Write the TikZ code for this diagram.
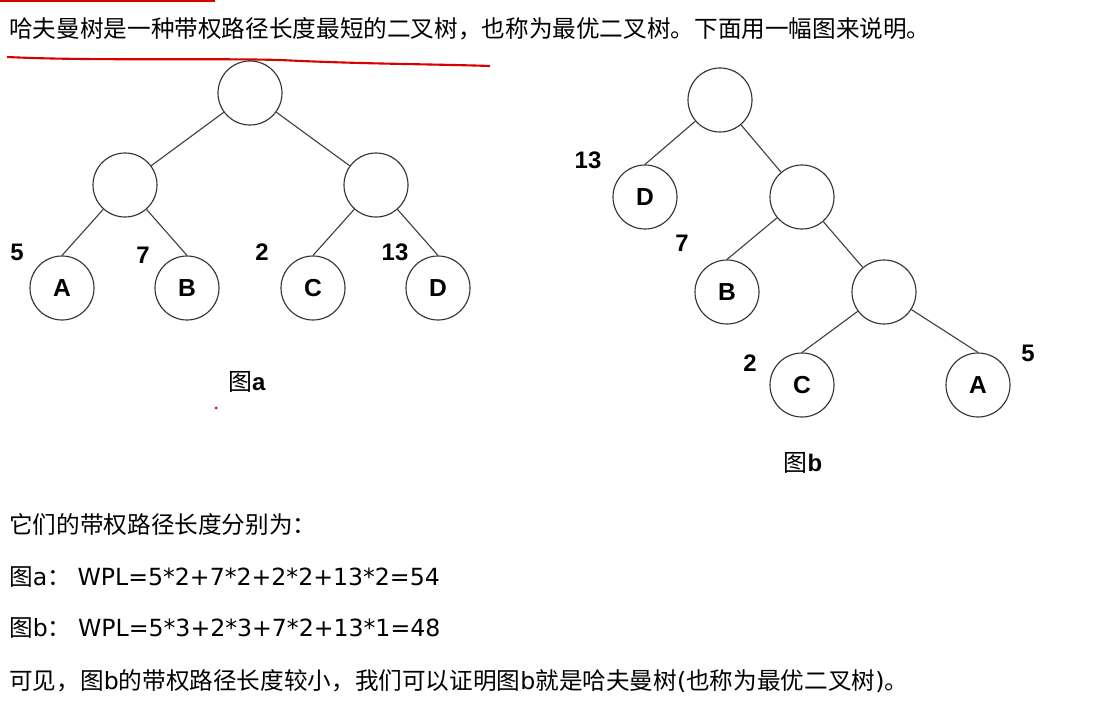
\documentclass[tikz,border=0pt]{standalone}
\usepackage{fontspec}
\setmainfont{Liberation Sans}
\newfontfamily\cjk{Noto Sans CJK SC}
\newfontfamily\latinsans{DejaVu Sans}
\begin{document}
\begin{tikzpicture}[x=0.025cm, y=-0.025cm,
  noeud/.style={circle, draw=black!80, line width=0.8pt, minimum size=1.6cm, inner sep=0pt,
    font=\fontsize{17.5}{17.5}\selectfont\bfseries},
  poids/.style={font=\fontsize{17}{17}\selectfont\bfseries},
  arete/.style={draw=black!75, line width=0.8pt},
  legende/.style={font=\fontsize{17}{17}\selectfont},
  ligne/.style={anchor=west, inner sep=0pt, font=\fontsize{16.8}{20}\selectfont}]
\useasboundingbox (0,0) rectangle (1111,701);
% Texte du haut
\node[ligne] (titre) at (9,29) {\cjk 哈夫曼树是一种带权路径长度最短的二叉树，也称为最优二叉树。下面用一幅图来说明。};
\draw[red!85!black, line width=1.2pt] (0,1) -- (215,1);
\draw[red!85!black, line width=1.5pt] (7,57) .. controls (90,61) and (200,58) .. (280,60) .. controls (360,64) and (430,64) .. (490,66);
% Arbre a
\node[noeud] (ra) at (250,93) {};
\node[noeud] (ga) at (125,185) {};
\node[noeud] (da) at (376,185) {};
\node[noeud] (Aa) at (62,288) {A};
\node[noeud] (Ba) at (187,288) {B};
\node[noeud] (Ca) at (313,288) {C};
\node[noeud] (Da) at (438,288) {D};
\draw[arete] (ra) -- (ga) (ra) -- (da);
\draw[arete] (ga) -- (Aa.north) (ga) -- (Ba.north) (da) -- (Ca.north) (da) -- (Da.north);
\node[poids] (pAa) at (17,252) {5};
\node[poids] (pBa) at (143,255) {7};
\node[poids] (pCa) at (262,252) {2};
\node[poids] (pDa) at (395,252) {13};
\node[legende] (capa) at (247,382) {{\cjk 图}\textbf{a}};
\fill[red!85!black] (216,408) circle (1.5);
% Arbre b
\node[noeud] (rb) at (720,100) {};
\node[noeud] (Db) at (645,197) {D};
\node[noeud] (db) at (802,197) {};
\node[noeud] (Bb) at (727,292) {B};
\node[noeud] (ib) at (884,292) {};
\node[noeud] (Cb) at (802,385) {C};
\node[noeud] (Ab) at (978,385) {A};
\draw[arete] (rb) -- (Db.north) (rb) -- (db);
\draw[arete] (db) -- (Bb.north) (db) -- (ib);
\draw[arete] (ib) -- (Cb.north) (ib) -- (Ab.north);
\node[poids] (pDb) at (588,160) {13};
\node[poids] (pBb) at (682,243) {7};
\node[poids] (pCb) at (750,363) {2};
\node[poids] (pAb) at (1028,353) {5};
\node[legende] (capb) at (803,463) {{\cjk 图}\textbf{b}};
% Texte du bas
\node[ligne] (l1) at (9,524) {\cjk 它们的带权路径长度分别为：};
\node[ligne] (l2) at (9,577) {{\cjk 图}{\latinsans a}{\cjk ：} {\latinsans WPL=5*2+7*2+2*2+13*2=54}};
\node[ligne] (l3) at (9,628) {{\cjk 图}{\latinsans b}{\cjk ：} {\latinsans WPL=5*3+2*3+7*2+13*1=48}};
\node[ligne] (l4) at (9,681) {{\cjk 可见，图}{\latinsans b}{\cjk 的带权路径长度较小，我们可以证明图}{\latinsans b}{\cjk 就是哈夫曼树}{\latinsans (}{\cjk 也称为最优二叉树}{\latinsans )}{\cjk 。}};
\end{tikzpicture}
\end{document}
